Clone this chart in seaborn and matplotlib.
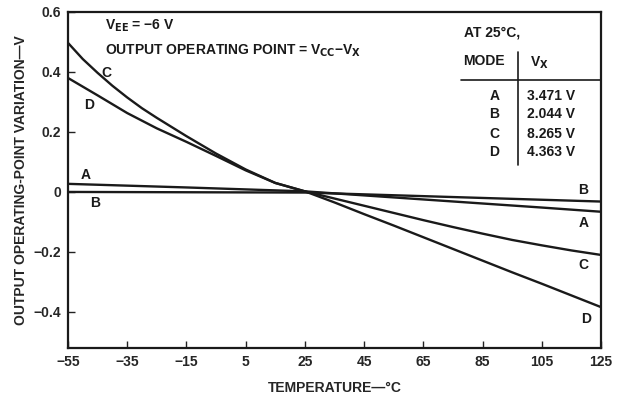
import matplotlib
matplotlib.use("Agg")
import matplotlib.pyplot as plt
import seaborn as sns
import pandas as pd

# ---- data ----
temp_A = [-55, -15, 25, 65, 105, 125]
vals_A = [0.027, 0.015, 0.002, -0.025, -0.052, -0.066]

temp_B = [-55, -15, 25, 65, 105, 125]
vals_B = [0.000, -0.001, -0.002, -0.014, -0.026, -0.032]

temp_C = [-55, -50, -45, -40, -35, -30, -25, -15, -5, 5, 15, 25, 35, 45, 55, 65, 75, 85, 95, 105, 115, 125]
vals_C = [0.497, 0.443, 0.397, 0.354, 0.315, 0.279, 0.247, 0.186, 0.128, 0.075, 0.030, 0.002,
          -0.022, -0.046, -0.070, -0.094, -0.117, -0.139, -0.160, -0.178, -0.195, -0.210]

temp_D = [-55, -45, -35, -25, -15, -5, 5, 15, 25, 35, 45, 55, 65, 75, 85, 95, 105, 115, 125]
vals_D = [0.380, 0.322, 0.263, 0.212, 0.167, 0.120, 0.072, 0.030, 0.002,
          -0.035, -0.074, -0.112, -0.151, -0.190, -0.229, -0.268, -0.306, -0.345, -0.384]

modes = ["A", "B", "C", "D"]
vx_values = ["3.471 V", "2.044 V", "8.265 V", "4.363 V"]

x_ticks = [-55, -35, -15, 5, 25, 45, 65, 85, 105, 125]
y_ticks = [0.6, 0.4, 0.2, 0, -0.2, -0.4]
y_tick_labels = ["0.6", "0.4", "0.2", "0", "-0.2", "-0.4"]

df = pd.concat([
    pd.DataFrame({"T": temp_A, "V": vals_A, "mode": "A"}),
    pd.DataFrame({"T": temp_B, "V": vals_B, "mode": "B"}),
    pd.DataFrame({"T": temp_C, "V": vals_C, "mode": "C"}),
    pd.DataFrame({"T": temp_D, "V": vals_D, "mode": "D"}),
], ignore_index=True)

sns.set_theme(style="white")
plt.rcParams["font.family"] = ["Liberation Sans", "DejaVu Sans"]
plt.rcParams["font.weight"] = "bold"

fig = plt.figure(figsize=(6.22, 3.99), dpi=100)
ax = fig.add_axes([0.1093, 0.128, 0.857, 0.842])

sns.lineplot(data=df, x="T", y="V", hue="mode", palette={m: "#1a1a1a" for m in modes},
             linewidth=1.7, legend=False, ax=ax, sort=True, estimator=None)

ax.set_xlim(-55, 125)
ax.set_ylim(-0.52, 0.6)
ax.set_xticks(x_ticks)
ax.set_xticklabels([("−" + str(abs(t))) if t < 0 else str(t) for t in x_ticks], fontsize=10, fontweight="bold")
ax.set_yticks(y_ticks)
ax.set_yticklabels([l.replace("-", "−") for l in y_tick_labels], fontsize=10, fontweight="bold")
ax.tick_params(axis="both", direction="in", length=5, width=1.0, color="#222222",
               bottom=True, left=True, top=False, right=False, pad=5)
for s in ax.spines.values():
    s.set_color("#1a1a1a")
    s.set_linewidth(1.6)

ax.set_xlabel("TEMPERATURE—°C", fontsize=10, fontweight="bold", labelpad=9)
ax.set_ylabel("OUTPUT OPERATING-POINT VARIATION—V", fontsize=10, fontweight="bold", labelpad=4)
ax.grid(False)

tk = dict(fontsize=10, fontweight="bold", color="#1a1a1a")
# curve labels
ax.text(-42, 0.395, "C", ha="center", va="center", **tk)
ax.text(-48, 0.29, "D", ha="center", va="center", **tk)
ax.text(-49, 0.057, "A", ha="center", va="center", **tk)
ax.text(-46, -0.036, "B", ha="center", va="center", **tk)
ax.text(119, 0.008, "B", ha="center", va="center", **tk)
ax.text(119, -0.103, "A", ha="center", va="center", **tk)
ax.text(119, -0.245, "C", ha="center", va="center", **tk)
ax.text(120, -0.425, "D", ha="center", va="center", **tk)

# annotations (axes fraction coords)
ax.text(0.07, 0.96, r"V$_{\mathbf{EE}}$ = −6 V", transform=ax.transAxes, ha="left", va="center", **tk)
ax.text(0.07, 0.885, r"OUTPUT OPERATING POINT = V$_{\mathbf{CC}}$−V$_{\mathbf{X}}$",
        transform=ax.transAxes, ha="left", va="center", **tk)
ax.text(0.742, 0.94, "AT 25°C,", transform=ax.transAxes, ha="left", va="center", **tk)
ax.text(0.742, 0.855, "MODE", transform=ax.transAxes, ha="left", va="center", **tk)
ax.text(0.885, 0.85, r"V$_{\mathbf{X}}$", transform=ax.transAxes, ha="center", va="center", **tk)
ax.plot([0.737, 1.0], [0.798, 0.798], transform=ax.transAxes, color="#1a1a1a", lw=1.2)
ax.plot([0.844, 0.844], [0.88, 0.545], transform=ax.transAxes, color="#1a1a1a", lw=1.2)
row_y = [0.75, 0.695, 0.638, 0.583]
for m, v, yy in zip(modes, vx_values, row_y):
    ax.text(0.80, yy, m, transform=ax.transAxes, ha="center", va="center", **tk)
    ax.text(0.861, yy, v, transform=ax.transAxes, ha="left", va="center", **tk)

fig.savefig("out.png", dpi=100)
